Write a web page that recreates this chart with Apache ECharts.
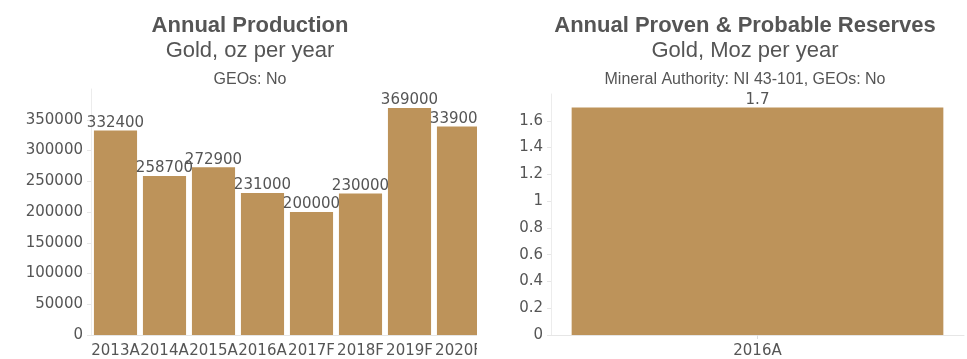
<!DOCTYPE html>
<html>
<head>
<meta charset="utf-8">
<script src="https://cdn.jsdelivr.net/npm/echarts@6/dist/echarts.min.js"></script>
<style>
  html, body { margin: 0; padding: 0; width: 967px; height: 359px; overflow: hidden; background: #fff; }
  #leftWrap { position: absolute; left: 0; top: 0; width: 477px; height: 359px; overflow: hidden; }
  #production { width: 500px; height: 359px; }
  #reserves { position: absolute; left: 495px; top: 0; width: 500px; height: 359px; }
</style>
</head>
<body>
<div id="leftWrap"><div id="production"></div></div>
<div id="reserves"></div>
<script>
// Annual gold production (oz per year)
const productionYears = ['2013A', '2014A', '2015A', '2016A', '2017F', '2018F', '2019F', '2020F'];
const productionOz = [332400, 258700, 272900, 231000, 200000, 230000, 369000, 339000];

// Proven & probable reserves (Moz)
const reserveYears = ['2016A'];
const reserveMoz = [1.7];

const BAR = '#bd935a';
const TEXT = '#555';
const AXIS_FONT = 'DejaVu Sans';
const TITLE_FONT = 'Liberation Sans';

function titles(main, sub, note) {
  return [
    { text: main, left: 'center', top: 10,
      textStyle: { fontFamily: TITLE_FONT, fontSize: 22, fontWeight: 'bold', color: TEXT } },
    { text: sub, left: 'center', top: 35,
      textStyle: { fontFamily: TITLE_FONT, fontSize: 22, fontWeight: 'normal', color: TEXT } },
    { text: note, left: 'center', top: 67,
      textStyle: { fontFamily: TITLE_FONT, fontSize: 16, fontWeight: 'normal', color: TEXT } }
  ];
}

function valueAxis(max, interval, fmt) {
  return {
    type: 'value', min: 0, max: max, interval: interval,
    axisLine: { show: true, lineStyle: { color: '#ececec' } },
    axisTick: { show: true, length: 4, lineStyle: { color: '#e6e6e6' } },
    splitLine: { show: false },
    axisLabel: { showMaxLabel: false, margin: 8, color: TEXT, fontFamily: AXIS_FONT, fontSize: 15, formatter: fmt }
  };
}

function categoryAxis(cats, ticks) {
  return {
    type: 'category', data: cats,
    axisLine: { show: true, lineStyle: { color: '#e6e6e6' } },
    axisTick: { show: ticks, alignWithLabel: true, length: 4, lineStyle: { color: '#dddddd' } },
    axisLabel: { interval: 0, margin: 9, color: TEXT, fontFamily: AXIS_FONT, fontSize: 15 }
  };
}

function barSeries(values, gap) {
  return [{
    type: 'bar', data: values, barCategoryGap: gap,
    itemStyle: { color: BAR },
    label: { show: true, position: 'top', distance: 0, color: TEXT, fontFamily: AXIS_FONT, fontSize: 15 }
  }];
}

const prodChart = echarts.init(document.getElementById('production'), null, { renderer: 'canvas' });
prodChart.setOption({
  animation: false,
  title: titles('Annual Production', 'Gold, oz per year', 'GEOs: No'),
  grid: { left: 91, right: 17, top: 89, bottom: 22, containLabel: false },
  xAxis: categoryAxis(productionYears, false),
  yAxis: valueAxis(400000, 50000, v => String(v)),
  series: barSeries(productionOz, '12%')
});

const resChart = echarts.init(document.getElementById('reserves'), null, { renderer: 'canvas' });
resChart.setOption({
  animation: false,
  title: titles('Annual Proven & Probable Reserves', 'Gold, Moz per year', 'Mineral Authority: NI 43-101, GEOs: No'),
  grid: { left: 56, right: 31, top: 94, bottom: 22, containLabel: false },
  xAxis: categoryAxis(reserveYears, true),
  yAxis: valueAxis(1.8, 0.2, v => String(Math.round(v * 10) / 10)),
  series: barSeries(reserveMoz, '10%')
});
</script>
</body>
</html>
